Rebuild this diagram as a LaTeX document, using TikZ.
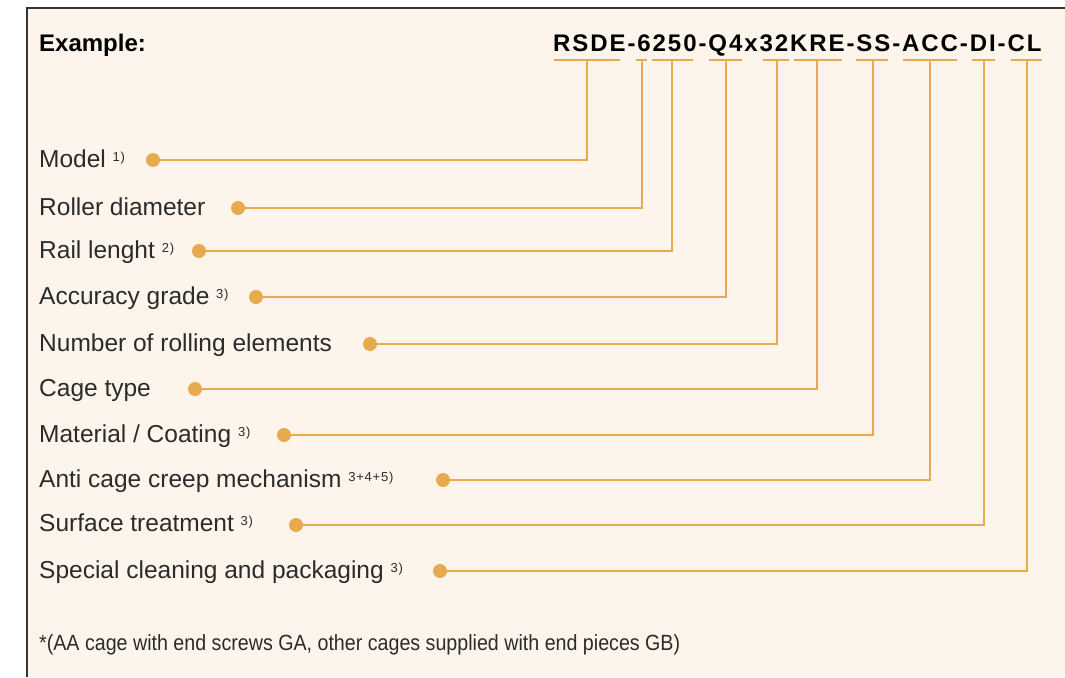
\documentclass[tikz,border=0pt]{standalone}
\usepackage{fontspec}
\setmainfont{Liberation Sans}
\usepackage{graphicx}
\definecolor{cream}{HTML}{FDF5EB}
\definecolor{amber}{HTML}{E8AA4E}
\definecolor{ink}{HTML}{2B2B2B}
\newcommand{\fnmark}[1]{\ {\fontsize{13}{13}\selectfont\addfontfeature{LetterSpace=6}\raisebox{6pt}{#1}}}

\begin{document}
\begin{tikzpicture}[x=1pt,y=-1pt]
\tikzset{
	LabelStyle/.style = {anchor=base west, inner sep=0pt, text=ink, font=\fontsize{24.5}{28}\selectfont},
	DotStyle/.style = {circle, fill=amber, minimum size=14pt, inner sep=0pt},
	LinkStyle/.style = {draw=amber, line width=1.3pt},
	MarkStyle/.style = {draw=amber, line width=1.3pt}
}
\useasboundingbox (0,0) rectangle (1065,677);
\fill[white] (0,0) rectangle (1065,677);
\fill[cream] (27,8) rectangle (1065,677);
\draw[line width=1.3pt, black!80] (27,677) -- (27,8) -- (1065,8);
\node[LabelStyle, text=black, font=\fontsize{24}{28}\selectfont\bfseries] (title) at (39,52) {Example:};
\node[LabelStyle, text=black, font=\fontsize{24}{28}\selectfont\bfseries\addfontfeature{LetterSpace=8}] (code) at (553,52) {RSDE-6250-Q4x32KRE-SS-ACC-DI-CL};
\draw[MarkStyle] (554,60) -- (620,60);
\draw[MarkStyle] (636,60) -- (647,60);
\draw[MarkStyle] (652,60) -- (693,60);
\draw[MarkStyle] (709,60) -- (742,60);
\draw[MarkStyle] (763,60) -- (789,60);
\draw[MarkStyle] (794,60) -- (842,60);
\draw[MarkStyle] (856,60) -- (888,60);
\draw[MarkStyle] (903,60) -- (957,60);
\draw[MarkStyle] (972,60) -- (995,60);
\draw[MarkStyle] (1011,60) -- (1042,60);
\coordinate (model) at (587,60);
\coordinate (diameter) at (642,60);
\coordinate (length) at (672,60);
\coordinate (grade) at (726,60);
\coordinate (number) at (777,60);
\coordinate (cage) at (817,60);
\coordinate (material) at (873,60);
\coordinate (creep) at (930,60);
\coordinate (surface) at (984,60);
\coordinate (cleaning) at (1027,60);
\node[LabelStyle] (l1) at (39,167) {Model\fnmark{1)}};
\node[LabelStyle] (l2) at (39,215) {Roller diameter};
\node[LabelStyle] (l3) at (39,258) {Rail lenght\fnmark{2)}};
\node[LabelStyle] (l4) at (39,304) {Accuracy grade\fnmark{3)}};
\node[LabelStyle] (l5) at (39,351) {Number of rolling elements};
\node[LabelStyle] (l6) at (39,396) {Cage type};
\node[LabelStyle] (l7) at (39,442) {Material / Coating\fnmark{3)}};
\node[LabelStyle] (l8) at (39,487) {Anti cage creep mechanism\fnmark{3+4+5)}};
\node[LabelStyle] (l9) at (39,531) {Surface treatment\fnmark{3)}};
\node[LabelStyle] (l10) at (39,578) {Special cleaning and packaging\fnmark{3)}};
\node[DotStyle] (d1) at (153,160) {};
\node[DotStyle] (d2) at (238,208) {};
\node[DotStyle] (d3) at (199,251) {};
\node[DotStyle] (d4) at (256,297) {};
\node[DotStyle] (d5) at (370,344) {};
\node[DotStyle] (d6) at (195,389) {};
\node[DotStyle] (d7) at (284,435) {};
\node[DotStyle] (d8) at (443,480) {};
\node[DotStyle] (d9) at (296,525) {};
\node[DotStyle] (d10) at (440,571) {};
\draw[LinkStyle] (d1) -| (model);
\draw[LinkStyle] (d2) -| (diameter);
\draw[LinkStyle] (d3) -| (length);
\draw[LinkStyle] (d4) -| (grade);
\draw[LinkStyle] (d5) -| (number);
\draw[LinkStyle] (d6) -| (cage);
\draw[LinkStyle] (d7) -| (material);
\draw[LinkStyle] (d8) -| (creep);
\draw[LinkStyle] (d9) -| (surface);
\draw[LinkStyle] (d10) -| (cleaning);
\node[LabelStyle, font=\fontsize{22}{26}\selectfont] (note) at (39,650) {\resizebox{641pt}{\height}{*(AA cage with end screws GA, other cages supplied with end pieces GB)}};
\end{tikzpicture}
\end{document}
